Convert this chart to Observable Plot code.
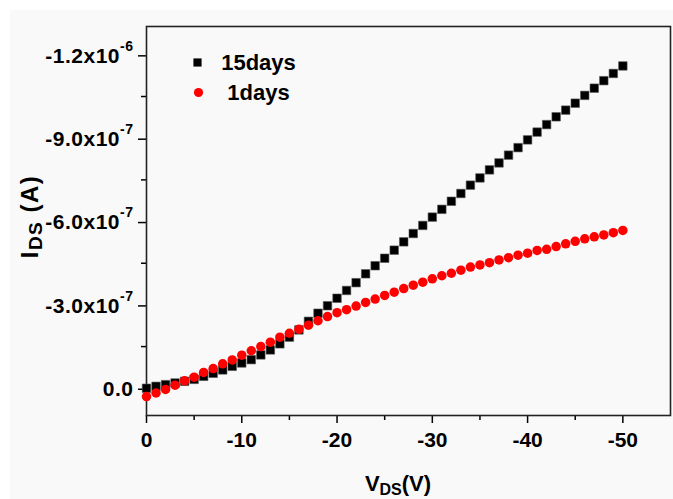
<!DOCTYPE html>
<html>
<head>
<meta charset="utf-8">
<script src="https://cdn.jsdelivr.net/npm/d3@7"></script>
<script src="https://cdn.jsdelivr.net/npm/@observablehq/plot@0.6"></script>
<style>
  html, body { margin: 0; padding: 0; background: #ffffff; }
  #chart { position: absolute; left: 10px; top: 10px; }
  svg text { font-family: "Liberation Sans", Arial, sans-serif; font-weight: bold; }
</style>
</head>
<body>
<div id="chart"></div>
<script>
// ---- data (current in units of 1e-7 A) ----
const vds = [0,-1,-2,-3,-4,-5,-6,-7,-8,-9,-10,-11,-12,-13,-14,-15,-16,-17,-18,-19,-20,
  -21,-22,-23,-24,-25,-26,-27,-28,-29,-30,-31,-32,-33,-34,-35,-36,-37,-38,-39,-40,
  -41,-42,-43,-44,-45,-46,-47,-48,-49,-50];
const ids15days = [0.00,-0.07,-0.13,-0.19,-0.25,-0.32,-0.43,-0.54,-0.66,-0.79,-0.91,
  -1.03,-1.20,-1.38,-1.60,-1.84,-2.10,-2.41,-2.70,-2.97,-3.24,-3.52,-3.80,-4.12,-4.41,
  -4.68,-4.97,-5.27,-5.57,-5.86,-6.16,-6.44,-6.73,-7.01,-7.31,-7.57,-7.86,-8.11,-8.39,
  -8.66,-8.94,-9.22,-9.49,-9.77,-10.01,-10.26,-10.54,-10.80,-11.07,-11.33,-11.60];
const ids1days = [0.30,0.17,0.04,-0.11,-0.27,-0.40,-0.57,-0.71,-0.88,-1.02,-1.19,
  -1.35,-1.50,-1.66,-1.84,-1.98,-2.12,-2.27,-2.43,-2.58,-2.72,-2.83,-2.96,-3.09,-3.21,
  -3.34,-3.46,-3.59,-3.71,-3.82,-3.94,-4.05,-4.14,-4.25,-4.36,-4.44,-4.52,-4.62,-4.70,
  -4.79,-4.86,-4.96,-5.00,-5.10,-5.20,-5.29,-5.38,-5.45,-5.52,-5.60,-5.68];
const UNIT = 1e-7;
const seriesNames = ["15days", "1days"];

const xTicks = [0, -10, -20, -30, -40, -50];
const xTickLabels = ["0", "-10", "-20", "-30", "-40", "-50"];
const xMinorTicks = [-5, -15, -25, -35, -45];
const yTicks = [0, -3e-7, -6e-7, -9e-7, -1.2e-6];
const yTickLabels = ["0.0", "-3.0x10^-7", "-6.0x10^-7", "-9.0x10^-7", "-1.2x10^-6"];
const yMinorTicks = [-1.5e-7, -4.5e-7, -7.5e-7, -1.05e-6];

const t15 = vds.map((v, i) => ({v, i: ids15days[i] * UNIT}));
const t1 = vds.map((v, i) => ({v, i: ids1days[i] * UNIT}));

const W = 663, H = 489;
const mL = 136, mR = 3, mT = 16, mB = 84;

const plot = Plot.plot({
  width: W, height: H,
  marginLeft: mL, marginRight: mR, marginTop: mT, marginBottom: mB,
  style: {background: "#f9f9f9", color: "#000", overflow: "visible",
          fontFamily: "'Liberation Sans', Arial, sans-serif"},
  x: {domain: [0, -55]},
  y: {domain: [0.98e-7, -1.302e-6]},
  marks: [
    Plot.axisX({ticks: xTicks, tickFormat: d => xTickLabels[xTicks.indexOf(d)],
      tickSize: 8, tickPadding: 9, fontSize: 21, fontWeight: "bold", strokeWidth: 1.5, label: null}),
    Plot.axisX({ticks: xMinorTicks, tickFormat: () => "", tickSize: 5, strokeWidth: 1.5, label: null}),
    Plot.axisY({ticks: yTicks, tickFormat: d => yTickLabels[yTicks.indexOf(d)],
      tickSize: 8, tickPadding: 5, fontSize: 21, fontWeight: "bold", strokeWidth: 1.5, label: null, dy: 1}),
    Plot.axisY({ticks: yMinorTicks, tickFormat: () => "", tickSize: 5, strokeWidth: 1.5, label: null}),
    Plot.frame({stroke: "#222", strokeWidth: 1.6}),
    Plot.dot(t15, {x: "v", y: "i", symbol: "square", r: 4.8, fill: "#000", stroke: "#555", strokeWidth: 0.6}),
    Plot.dot(t1, {x: "v", y: "i", symbol: "circle", r: 4.75, fill: "#ff0000"}),
    // legend
    Plot.dot([seriesNames[0]], {frameAnchor: "top-left", dx: 51, dy: 36, symbol: "square", r: 4.6, fill: "#000"}),
    Plot.dot([seriesNames[1]], {frameAnchor: "top-left", dx: 52, dy: 66, symbol: "circle", r: 4.6, fill: "#ff0000"}),
    Plot.text([seriesNames[0]], {frameAnchor: "top-left", lineAnchor: "middle", dx: 112, dy: 36, text: d => d,
      textAnchor: "middle", fontSize: 22, fontWeight: "bold", fill: "#000", letterSpacing: 0.3}),
    Plot.text([seriesNames[1]], {frameAnchor: "top-left", lineAnchor: "middle", dx: 112, dy: 66, text: d => d,
      textAnchor: "middle", fontSize: 22, fontWeight: "bold", fill: "#000", letterSpacing: 0.3})
  ]
});

// superscripts on y tick labels
plot.querySelectorAll('g[aria-label="y-axis tick label"] text').forEach(t => {
  t.setAttribute("letter-spacing", "0.5");
  const s = t.textContent;
  if (s.includes("^")) {
    const [base, exp] = s.split("^");
    t.textContent = "";
    const sel = d3.select(t);
    sel.append("tspan").text(base);
    sel.append("tspan").attr("font-size", 14).attr("dy", -12).text(exp);
  }
});

const svg = d3.select(plot);
// x axis title: V_DS(V)
const xt = svg.append("text")
  .attr("x", (mL + W - mR) / 2 - 10).attr("y", 481)
  .attr("text-anchor", "middle").attr("fill", "#000").attr("font-weight", "bold");
xt.append("tspan").attr("font-size", 22).text("V");
xt.append("tspan").attr("font-size", 16).attr("dy", 4).text("DS");
xt.append("tspan").attr("font-size", 22).attr("dy", -4).text("(V)");

// y axis title: I_DS (A)
const yt = svg.append("text")
  .attr("transform", `translate(28,${(mT + H - mB) / 2 - 4}) rotate(-90)`)
  .attr("text-anchor", "middle").attr("fill", "#000").attr("font-weight", "bold")
  .attr("letter-spacing", 1.5);
yt.append("tspan").attr("font-size", 24).text("I");
yt.append("tspan").attr("font-size", 19).attr("dy", 4).text("DS");
yt.append("tspan").attr("font-size", 24).attr("dy", -4).text(" (A)");

document.getElementById("chart").appendChild(plot);
</script>
</body>
</html>
